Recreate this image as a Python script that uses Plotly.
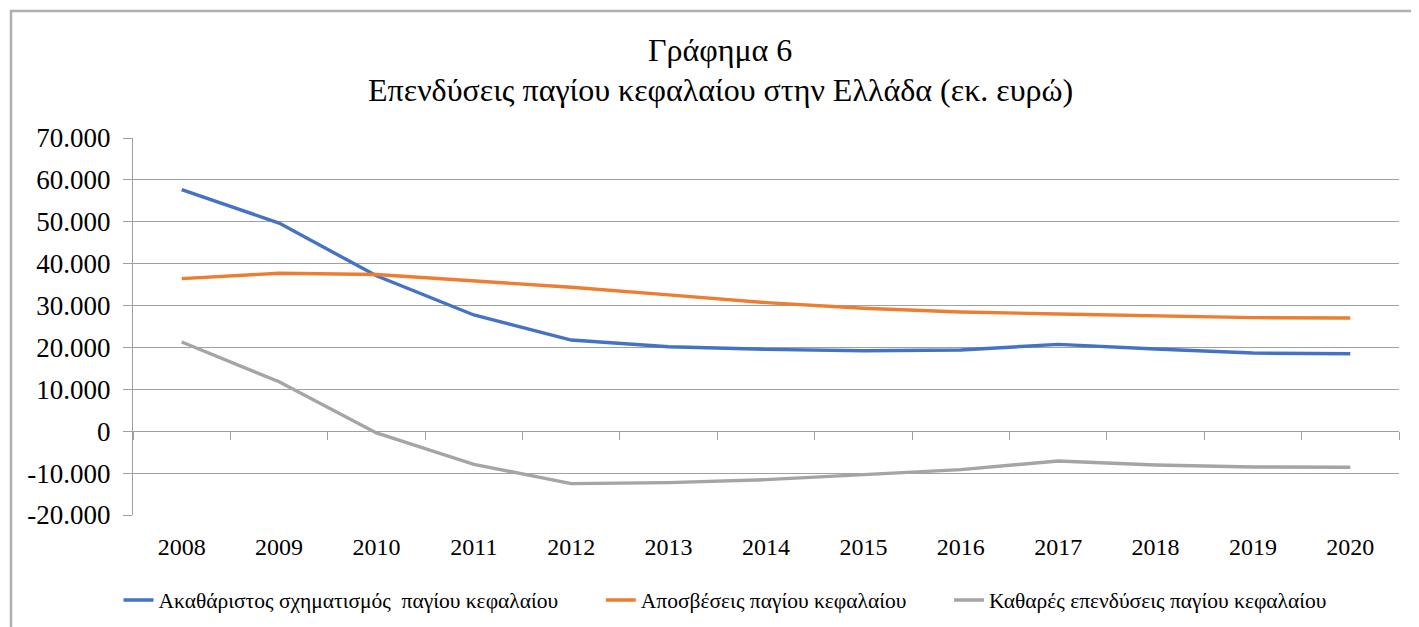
import plotly.graph_objects as go

years = ["2008", "2009", "2010", "2011", "2012", "2013", "2014",
         "2015", "2016", "2017", "2018", "2019", "2020"]

gross = [57650, 49700, 37100, 27750, 21770, 20170, 19540,
         19220, 19380, 20740, 19620, 18660, 18500]
depreciation = [36440, 37720, 37400, 35880, 34370, 32540, 30700,
                29350, 28470, 27990, 27510, 27110, 27030]
net = [21290, 11800, -400, -7900, -12500, -12280, -11560,
       -10450, -9170, -7100, -8060, -8540, -8610]

names = ["Ακαθάριστος σχηματισμός\u00a0\u00a0παγίου κεφαλαίου",
         "Αποσβέσεις παγίου κεφαλαίου",
         "Καθαρές επενδύσεις παγίου κεφαλαίου"]
colors = ["#4472C4", "#ED7D31", "#A5A5A5"]

title_lines = ["Γράφημα 6", "Επενδύσεις παγίου κεφαλαίου στην Ελλάδα (εκ. ευρώ)"]

y_ticks = [70000, 60000, 50000, 40000, 30000, 20000, 10000, 0, -10000, -20000]
y_ticktext = [f"{v:,}".replace(",", ".") for v in y_ticks]

FONT = "Liberation Serif"
GRID = "#a0a0a0"
PAD = "\u00a0" * 7  # spacing after a legend entry

fig = go.Figure()
for i, (vals, name, col) in enumerate(zip([gross, depreciation, net], names, colors)):
    label = name + (PAD if i < len(names) - 1 else "")
    fig.add_trace(go.Scatter(x=years, y=vals, name=label, mode="lines",
                             line=dict(color=col, width=3.4),
                             hoverinfo="skip"))
# helper trace so the tick axis drawn at zero has the categories
fig.add_trace(go.Scatter(x=years, y=[None] * len(years), xaxis="x2",
                         showlegend=False, hoverinfo="skip"))

# page body has an 8px margin: shift target pixel positions accordingly
OFF = 8
W, H = 1419, 627
L, R, T, B = 133 - OFF, 1419 - (1399 - OFF), 138 - OFF, 627 - (515 - OFF)
pw = W - L - R
ph = H - T - B

def px_x(x):
    return (x - OFF - L) / pw

def px_y(y):
    return (H - B - (y - OFF)) / ph

ymin, ymax = -20000, 70000
zero_pos = (0 - ymin) / (ymax - ymin)

fig.update_layout(
    width=W, height=H,
    margin=dict(l=L, r=R, t=T, b=B),
    paper_bgcolor="white", plot_bgcolor="white",
    font=dict(family=FONT, color="black"),
    xaxis=dict(type="category", range=[-0.5, 12.5], showgrid=False,
               showline=False, ticks="", zeroline=False,
               tickfont=dict(family=FONT, size=24, color="black"),
               ticklabelstandoff=15, fixedrange=True),
    xaxis2=dict(type="category", range=[-0.5, 12.5], overlaying="x",
                anchor="free", position=zero_pos, side="bottom",
                showgrid=False, showline=True, linecolor=GRID, linewidth=1.3,
                ticks="outside", tickson="boundaries", ticklen=8,
                tickcolor=GRID, tickwidth=1.3,
                showticklabels=False, zeroline=False),
    yaxis=dict(range=[ymin, ymax], tickvals=y_ticks, ticktext=y_ticktext,
               showgrid=True, gridcolor=GRID, gridwidth=1.3,
               zeroline=False, showline=True, linecolor=GRID, linewidth=1.3,
               ticks="outside", ticklen=9, tickcolor=GRID, tickwidth=1.3,
               tickfont=dict(family=FONT, size=27, color="black"),
               ticklabelstandoff=7, fixedrange=True),
    legend=dict(orientation="h", x=px_x(725), xanchor="center",
                y=px_y(600), yanchor="middle",
                font=dict(family=FONT, size=21.5, color="black"),
                bgcolor="rgba(0,0,0,0)"),
    showlegend=True,
)

for txt, ypix in zip(title_lines, [50, 90]):
    fig.add_annotation(text=txt, xref="paper", yref="paper",
                       x=px_x(720), y=px_y(ypix), xanchor="center",
                       yanchor="middle", showarrow=False,
                       font=dict(family=FONT, size=32, color="black"))

fig.add_shape(type="rect", xref="paper", yref="paper",
              x0=px_x(11), x1=px_x(1440), y0=px_y(11), y1=px_y(660),
              line=dict(color="#b0b0b0", width=2.5), layer="below")

fig.write_html("out.html")
